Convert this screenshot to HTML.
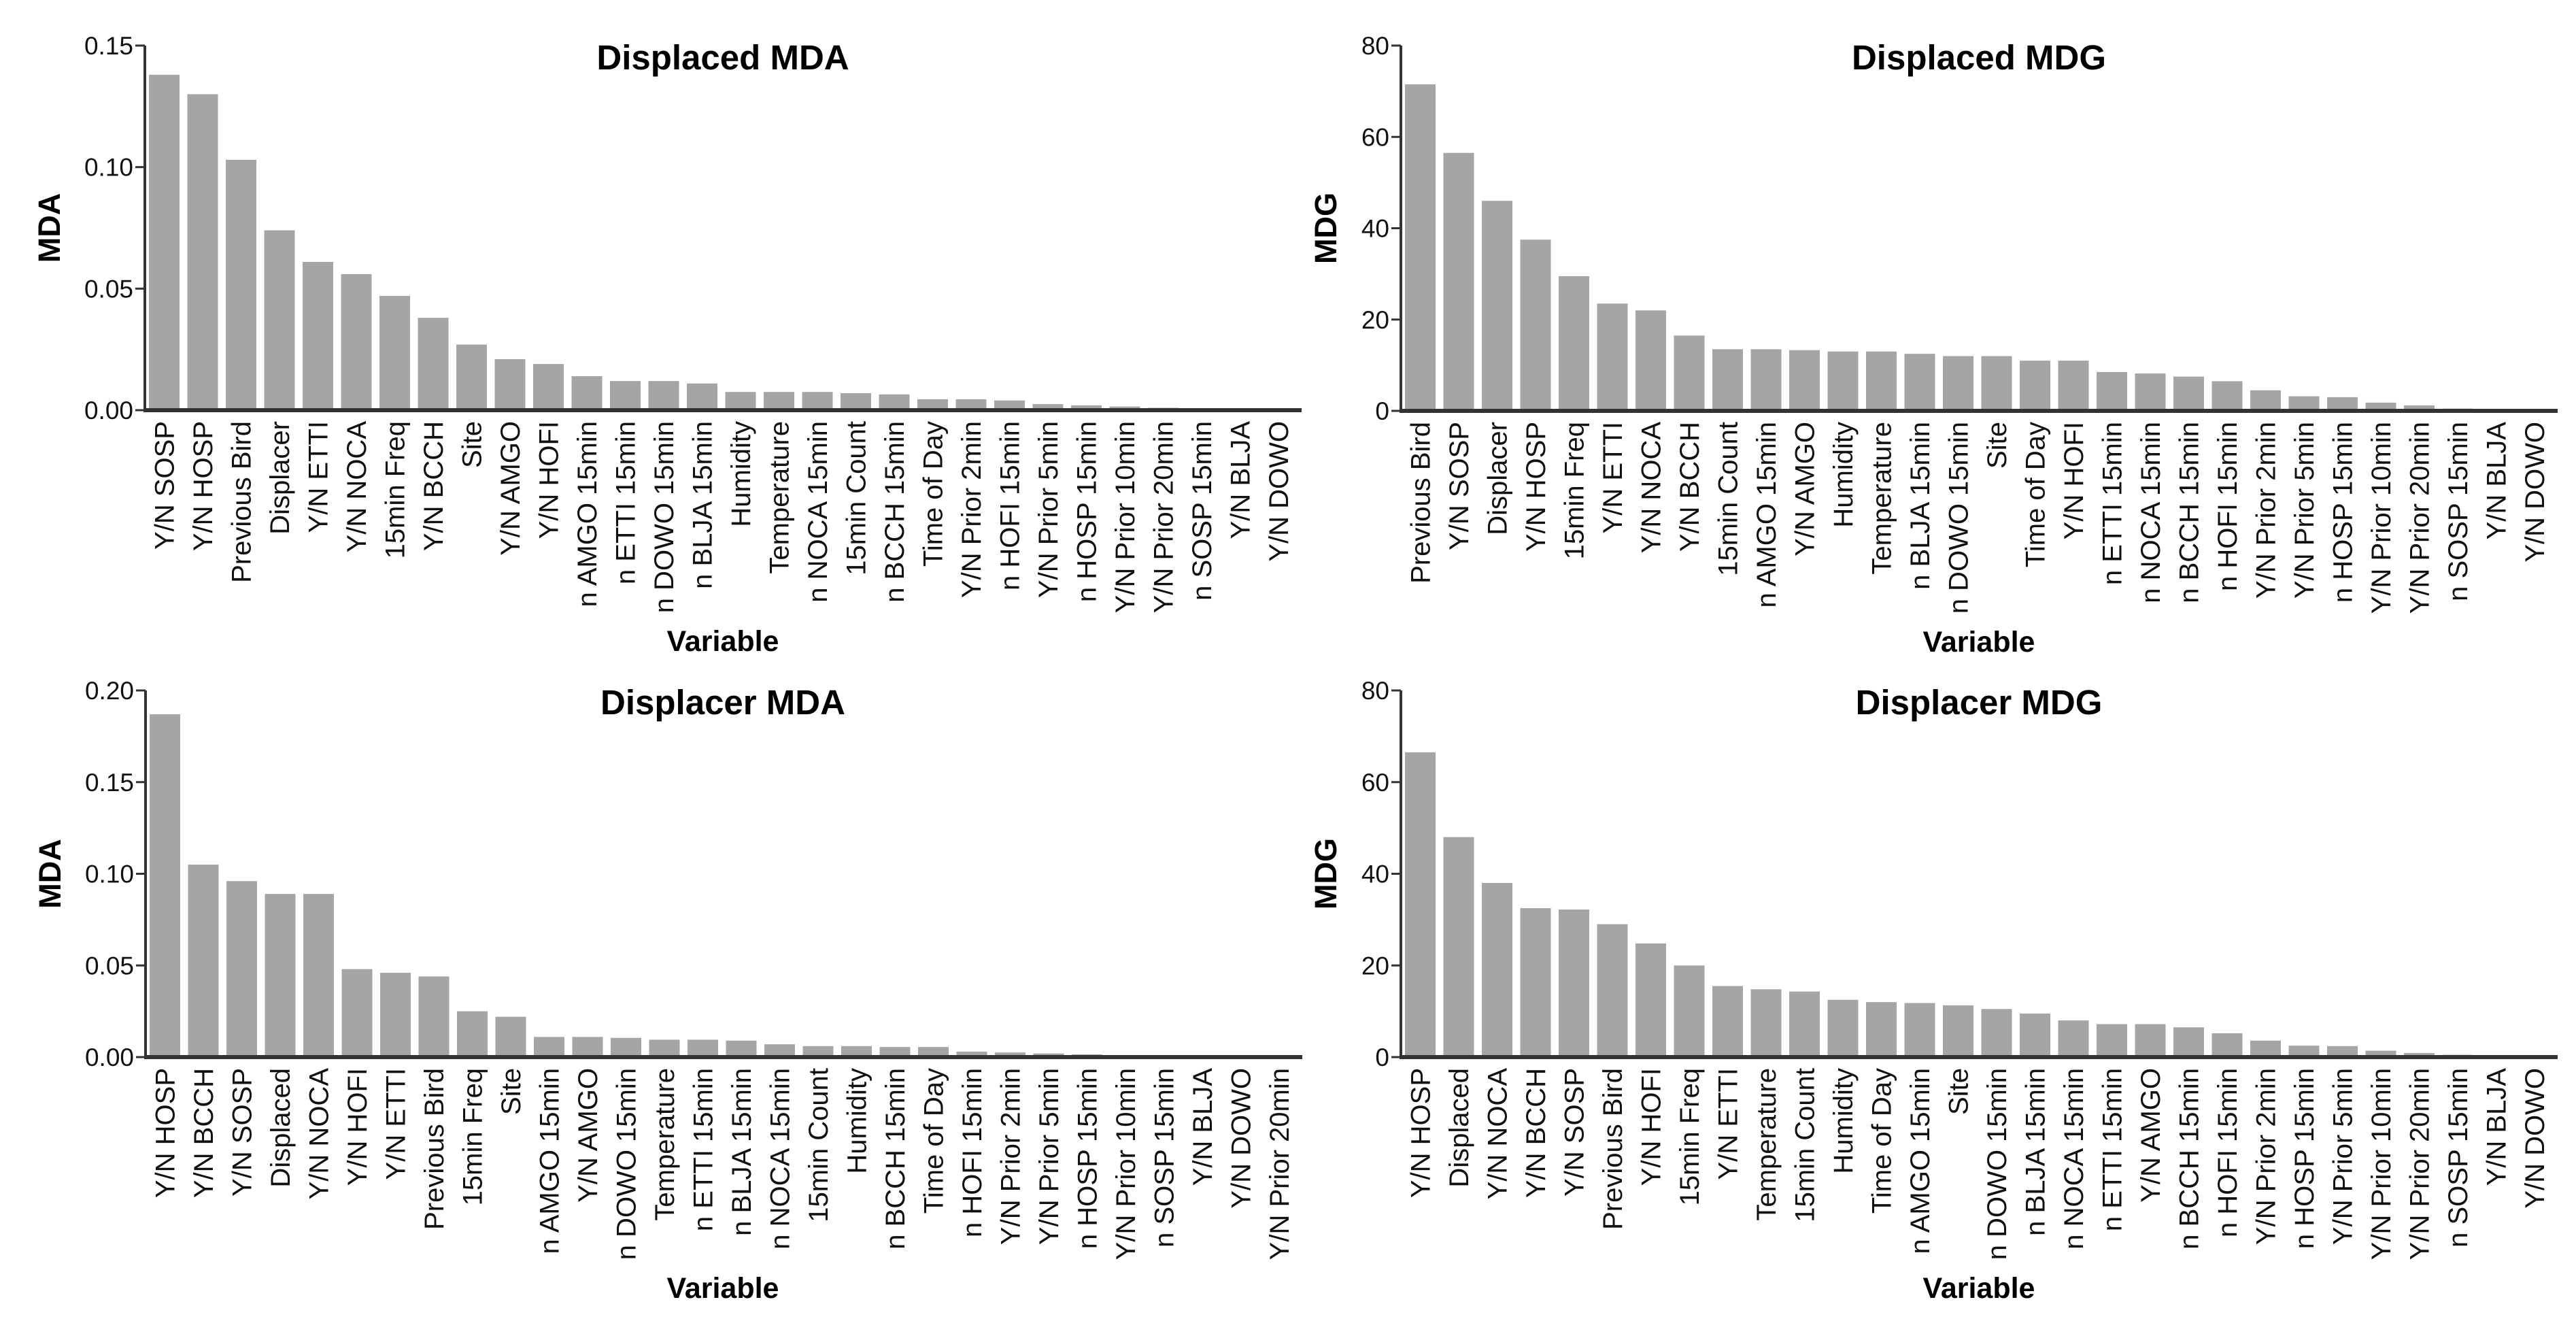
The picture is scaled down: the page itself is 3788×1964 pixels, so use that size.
<!DOCTYPE html>
<html><head><meta charset="utf-8"><style>
html,body{margin:0;padding:0;background:#fff;}
svg{display:block;font-family:"Liberation Sans",Arial,sans-serif;}
</style></head>
<body>
<svg id="fig" width="3788" height="1964" viewBox="0 0 3788 1964" xmlns="http://www.w3.org/2000/svg"></svg>
<script>
// ---- data ----
const catsDisplacedMDA = ["Y/N SOSP","Y/N HOSP","Previous Bird","Displacer","Y/N ETTI","Y/N NOCA","15min Freq","Y/N BCCH","Site","Y/N AMGO","Y/N HOFI","n AMGO 15min","n ETTI 15min","n DOWO 15min","n BLJA 15min","Humidity","Temperature","n NOCA 15min","15min Count","n BCCH 15min","Time of Day","Y/N Prior 2min","n HOFI 15min","Y/N Prior 5min","n HOSP 15min","Y/N Prior 10min","Y/N Prior 20min","n SOSP 15min","Y/N BLJA","Y/N DOWO"];
const valsDisplacedMDA = [0.138,0.130,0.103,0.074,0.061,0.056,0.047,0.038,0.027,0.021,0.019,0.014,0.012,0.012,0.011,0.0075,0.0075,0.0075,0.007,0.0065,0.0045,0.0045,0.004,0.0025,0.002,0.0015,0.001,0,0,0];
const catsDisplacedMDG = ["Previous Bird","Y/N SOSP","Displacer","Y/N HOSP","15min Freq","Y/N ETTI","Y/N NOCA","Y/N BCCH","15min Count","n AMGO 15min","Y/N AMGO","Humidity","Temperature","n BLJA 15min","n DOWO 15min","Site","Time of Day","Y/N HOFI","n ETTI 15min","n NOCA 15min","n BCCH 15min","n HOFI 15min","Y/N Prior 2min","Y/N Prior 5min","n HOSP 15min","Y/N Prior 10min","Y/N Prior 20min","n SOSP 15min","Y/N BLJA","Y/N DOWO"];
const valsDisplacedMDG = [71.5,56.5,46,37.5,29.5,23.5,22,16.5,13.5,13.5,13.3,13,13,12.5,12,12,11,11,8.5,8.2,7.5,6.5,4.5,3.2,3,1.8,1.2,0.5,0,0];
const catsDisplacerMDA = ["Y/N HOSP","Y/N BCCH","Y/N SOSP","Displaced","Y/N NOCA","Y/N HOFI","Y/N ETTI","Previous Bird","15min Freq","Site","n AMGO 15min","Y/N AMGO","n DOWO 15min","Temperature","n ETTI 15min","n BLJA 15min","n NOCA 15min","15min Count","Humidity","n BCCH 15min","Time of Day","n HOFI 15min","Y/N Prior 2min","Y/N Prior 5min","n HOSP 15min","Y/N Prior 10min","n SOSP 15min","Y/N BLJA","Y/N DOWO","Y/N Prior 20min"];
const valsDisplacerMDA = [0.187,0.105,0.096,0.089,0.089,0.048,0.046,0.044,0.025,0.022,0.011,0.011,0.0105,0.0095,0.0095,0.009,0.007,0.006,0.006,0.0055,0.0055,0.003,0.0025,0.002,0.0015,0.001,0,0,0,0];
const catsDisplacerMDG = ["Y/N HOSP","Displaced","Y/N NOCA","Y/N BCCH","Y/N SOSP","Previous Bird","Y/N HOFI","15min Freq","Y/N ETTI","Temperature","15min Count","Humidity","Time of Day","n AMGO 15min","Site","n DOWO 15min","n BLJA 15min","n NOCA 15min","n ETTI 15min","Y/N AMGO","n BCCH 15min","n HOFI 15min","Y/N Prior 2min","n HOSP 15min","Y/N Prior 5min","Y/N Prior 10min","Y/N Prior 20min","n SOSP 15min","Y/N BLJA","Y/N DOWO"];
const valsDisplacerMDG = [66.5,48,38,32.5,32.2,29,24.8,20,15.5,14.8,14.3,12.5,12,11.8,11.3,10.5,9.5,8,7.2,7.2,6.5,5.2,3.6,2.5,2.4,1.4,0.9,0.5,0,0];
const ticksMDA15 = ["0.00","0.05","0.10","0.15"];
const ticksMDA20 = ["0.00","0.05","0.10","0.15","0.20"];
const ticksMDG = ["0","20","40","60","80"];

const NS = "http://www.w3.org/2000/svg";
const svg = document.getElementById('fig');
function mk(tag, attrs, parent, text){
  const e = document.createElementNS(NS, tag);
  for (const k in attrs) e.setAttribute(k, attrs[k]);
  if (text !== undefined) e.textContent = text;
  (parent||svg).appendChild(e);
  return e;
}

function panel(o){
  const g = mk('g', {});
  
  
  const ymax = parseFloat(o.ticks[o.ticks.length-1]);
  const y = v => o.y0 - (v / ymax) * (o.y0 - o.yTop);
  const pitch = 56.5, bw = 45;
  const bandX = i => o.x0 + 6 + i * pitch;
  // bars
  o.vals.forEach((v, i) => {
    const r = mk('rect', {x: bandX(i), y: y(v), width: bw, height: Math.max(0, o.y0 - y(v)), fill: '#a5a5a5'}, g);
    
    
  });
  // axes
  const ya = mk('line', {x1: o.x0, y1: o.yTop, x2: o.x0, y2: o.y0 + 2, stroke: '#333', 'stroke-width': 4}, g);
  
  
  const xa = mk('line', {x1: o.x0 - 2, y1: o.y0, x2: o.x0 + 6 + o.cats.length * pitch, y2: o.y0, stroke: '#333', 'stroke-width': 6}, g);
  
  
  // ticks
  o.ticks.forEach(t => {
    const ty = y(parseFloat(t));
    mk('line', {x1: o.x0 - 14, y1: ty, x2: o.x0, y2: ty, stroke: '#333', 'stroke-width': 3}, g);
    const tl = mk('text', {x: o.x0 - 17, y: ty + 13, 'text-anchor': 'end', 'font-size': 37, fill: '#111'}, g, t);
    
    
  });
  // category labels
  o.cats.forEach((c, i) => {
    const cx = bandX(i) + bw / 2 + 14;
    const t = mk('text', {transform: `translate(${cx},${o.y0 + 16}) rotate(-90)`, 'text-anchor': 'end', 'font-size': 40, fill: '#111'}, g, c);
    
    
  });
  // titles
  const ti = mk('text', {x: o.titleX, y: o.yTop + 35, 'text-anchor': 'middle', 'font-size': 51, 'font-weight': 'bold', fill: '#000'}, g, o.title);
  
  
  const yt = mk('text', {transform: `translate(${o.yTitleX},${(o.yTop + o.y0) / 2}) rotate(-90)`, 'text-anchor': 'middle', 'font-size': 45, 'font-weight': 'bold', fill: '#000'}, g, o.yTitle);
  
  
  const xt = mk('text', {x: o.titleX, y: o.y0 + 354, 'text-anchor': 'middle', 'font-size': 43, 'font-weight': 'bold', fill: '#000'}, g, 'Variable');
  
  
}

panel({name:'displaced-mda-panel', cats:catsDisplacedMDA, vals:valsDisplacedMDA, ticks:ticksMDA15, x0:213, y0:603, yTop:67, title:'Displaced MDA', titleX:1063, yTitle:'MDA', yTitleX:88});
panel({name:'displaced-mdg-panel', cats:catsDisplacedMDG, vals:valsDisplacedMDG, ticks:ticksMDG, x0:2060, y0:604, yTop:67, title:'Displaced MDG', titleX:2910, yTitle:'MDG', yTitleX:1965});
panel({name:'displacer-mda-panel', cats:catsDisplacerMDA, vals:valsDisplacerMDA, ticks:ticksMDA20, x0:214, y0:1554, yTop:1015, title:'Displacer MDA', titleX:1063, yTitle:'MDA', yTitleX:89});
panel({name:'displacer-mdg-panel', cats:catsDisplacerMDG, vals:valsDisplacerMDG, ticks:ticksMDG, x0:2060, y0:1554, yTop:1015, title:'Displacer MDG', titleX:2910, yTitle:'MDG', yTitleX:1965});
</script>
</body></html>
